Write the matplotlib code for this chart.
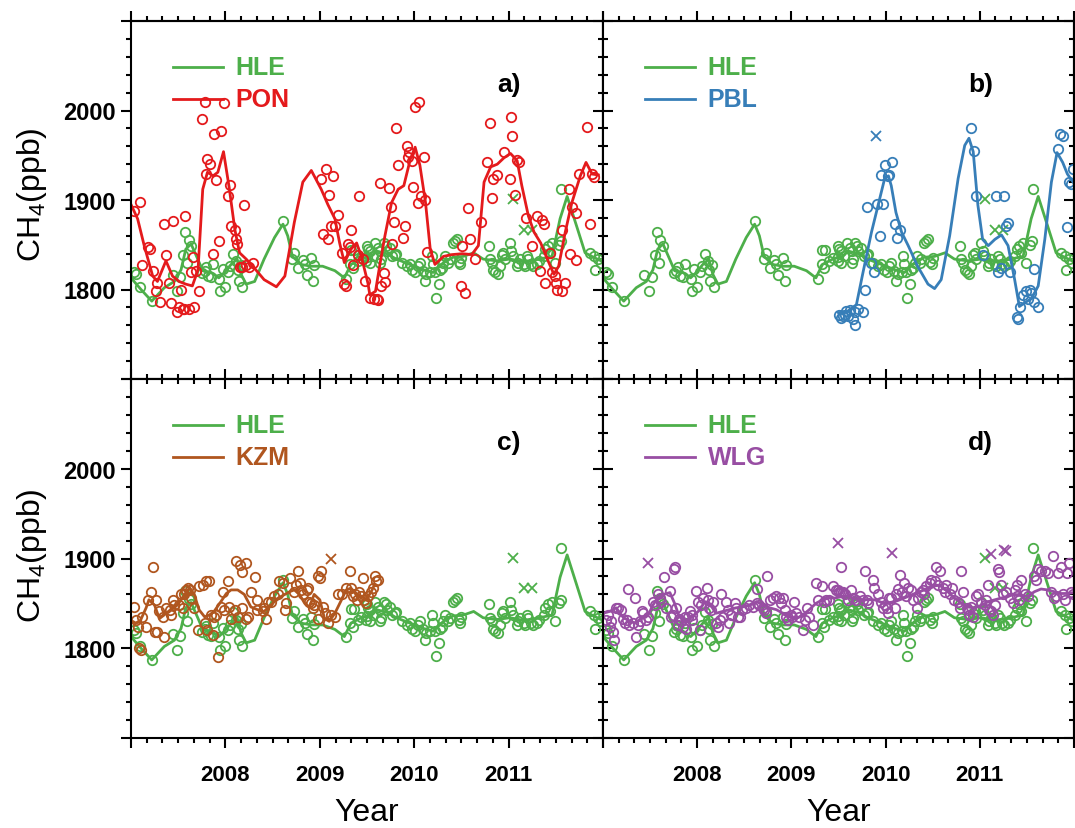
import matplotlib
matplotlib.use('Agg')
import matplotlib.pyplot as plt
from matplotlib.ticker import FixedLocator, FixedFormatter, MultipleLocator

plt.rcParams['font.family'] = ['Liberation Sans', 'DejaVu Sans']
plt.rcParams['mathtext.default'] = 'regular'

# ---- data (decimal year, CH4 ppb) ----
hle_pts = [
    (2007.03, 1820), (2007.05, 1817), (2007.10, 1803), (2007.22, 1787), (2007.44, 1816), (2007.49, 1798),
    (2007.52, 1814), (2007.555, 1839), (2007.57, 1864), (2007.59, 1830), (2007.61, 1855), (2007.64, 1849),
    (2007.75, 1818), (2007.78, 1821), (2007.795, 1825), (2007.82, 1815), (2007.87, 1828), (2007.85, 1814),
    (2007.93, 1812), (2007.94, 1798), (2007.97, 1823), (2008.00, 1803), (2008.03, 1820), (2008.05, 1826),
    (2008.08, 1840), (2008.11, 1832), (2008.13, 1822), (2008.14, 1809), (2008.16, 1827), (2008.18, 1803),
    (2008.61, 1876), (2008.71, 1834), (2008.73, 1841), (2008.77, 1824), (2008.82, 1833), (2008.84, 1828),
    (2008.86, 1816), (2008.91, 1835), (2008.93, 1809), (2008.94, 1827), (2009.28, 1812), (2009.32, 1828),
    (2009.33, 1844), (2009.36, 1844), (2009.35, 1824), (2009.40, 1832), (2009.44, 1835), (2009.49, 1832),
    (2009.51, 1845), (2009.495, 1849), (2009.53, 1843), (2009.56, 1837), (2009.59, 1852), (2009.62, 1846),
    (2009.64, 1843), (2009.65, 1834), (2009.68, 1852), (2009.70, 1849), (2009.71, 1843), (2009.74, 1846),
    (2009.77, 1837), (2009.80, 1839), (2009.50, 1836), (2009.53, 1830), (2009.64, 1830), (2009.81, 1840),
    (2009.87, 1830), (2009.92, 1826), (2009.955, 1828), (2009.98, 1822), (2010.01, 1819), (2010.04, 1826),
    (2010.06, 1830), (2010.09, 1821), (2010.11, 1809), (2010.13, 1817), (2010.17, 1819), (2010.19, 1837),
    (2010.20, 1828), (2010.22, 1819), (2010.23, 1791), (2010.26, 1806), (2010.27, 1822), (2010.29, 1824),
    (2010.31, 1830), (2010.33, 1837), (2010.36, 1830), (2010.38, 1834), (2010.41, 1852), (2010.43, 1854),
    (2010.45, 1856), (2010.47, 1831), (2010.49, 1828), (2010.50, 1835), (2010.79, 1849), (2010.80, 1834),
    (2010.82, 1830), (2010.84, 1822), (2010.86, 1819), (2010.89, 1817), (2010.91, 1826), (2010.93, 1839),
    (2010.945, 1841), (2010.96, 1834), (2011.015, 1852), (2011.03, 1843), (2011.05, 1837), (2011.09, 1826),
    (2011.10, 1830), (2011.12, 1834), (2011.16, 1828), (2011.17, 1826), (2011.19, 1837), (2011.21, 1834),
    (2011.24, 1828), (2011.26, 1826), (2011.30, 1828), (2011.32, 1832), (2011.37, 1837), (2011.39, 1845),
    (2011.42, 1849), (2011.44, 1841), (2011.46, 1852), (2011.49, 1830), (2011.53, 1850), (2011.55, 1854),
    (2011.56, 1912), (2011.86, 1841), (2011.90, 1837), (2011.92, 1822), (2011.95, 1834), (2011.98, 1830),
]
hle_cross = [(2011.05, 1901), (2011.16, 1867), (2011.25, 1867)]
hle_fit = [
    (2007.0, 1813), (2007.106, 1800), (2007.22, 1787), (2007.353, 1802), (2007.46, 1809), (2007.53, 1822),
    (2007.58, 1845), (2007.636, 1851), (2007.707, 1834), (2007.76, 1821), (2007.85, 1819), (2007.93, 1813),
    (2007.99, 1819), (2008.06, 1828), (2008.124, 1834), (2008.166, 1817), (2008.22, 1806), (2008.31, 1809),
    (2008.41, 1834), (2008.52, 1858), (2008.61, 1873), (2008.66, 1860), (2008.71, 1837), (2008.80, 1828),
    (2008.91, 1826), (2009.03, 1826), (2009.16, 1821), (2009.26, 1813), (2009.33, 1828), (2009.44, 1834),
    (2009.545, 1837), (2009.60, 1843), (2009.71, 1840), (2009.81, 1834), (2009.955, 1828), (2010.10, 1822),
    (2010.20, 1819), (2010.31, 1830), (2010.41, 1836), (2010.52, 1837), (2010.63, 1841), (2010.73, 1834),
    (2010.87, 1832), (2011.015, 1834), (2011.16, 1831), (2011.33, 1834), (2011.46, 1837), (2011.545, 1879),
    (2011.62, 1904), (2011.72, 1871), (2011.81, 1841), (2011.90, 1836), (2012.0, 1831),
]

pon_pts = [
    (2007.035, 1888), (2007.10, 1898), (2007.12, 1827), (2007.18, 1847), (2007.20, 1845), (2007.23, 1821),
    (2007.265, 1798), (2007.275, 1807), (2007.31, 1786), (2007.35, 1873), (2007.37, 1839), (2007.40, 1807),
    (2007.42, 1785), (2007.44, 1876), (2007.49, 1775), (2007.51, 1781), (2007.53, 1800), (2007.55, 1778),
    (2007.565, 1778), (2007.57, 1882), (2007.61, 1778), (2007.64, 1820), (2007.655, 1836), (2007.67, 1780),
    (2007.69, 1821), (2007.72, 1798), (2007.75, 1990), (2007.78, 2010), (2007.795, 1929), (2007.81, 1946),
    (2007.84, 1940), (2007.87, 1840), (2007.875, 1974), (2007.90, 1922), (2007.93, 1854), (2007.95, 1977),
    (2007.99, 2008), (2008.03, 1905), (2008.05, 1917), (2008.06, 1871), (2008.10, 1867), (2008.11, 1856),
    (2008.12, 1851), (2008.20, 1894), (2008.15, 1825), (2008.18, 1825), (2008.22, 1827), (2008.255, 1825),
    (2008.29, 1830), (2009.01, 1924), (2009.07, 1935), (2009.14, 1927), (2009.10, 1906), (2009.03, 1862),
    (2009.085, 1856), (2009.12, 1871), (2009.16, 1871), (2009.19, 1883), (2009.23, 1841), (2009.33, 1866),
    (2009.26, 1806), (2009.28, 1804), (2009.30, 1851), (2009.315, 1847), (2009.35, 1827), (2009.42, 1904),
    (2009.40, 1839), (2009.46, 1834), (2009.48, 1809), (2009.53, 1790), (2009.57, 1789), (2009.605, 1789),
    (2009.62, 1788), (2009.64, 1919), (2009.65, 1804), (2009.675, 1818), (2009.69, 1808), (2009.73, 1913),
    (2009.75, 1892), (2009.76, 1851), (2009.79, 1875), (2009.81, 1981), (2009.83, 1939), (2009.88, 1858),
    (2009.90, 1871), (2009.92, 1960), (2009.94, 1954), (2009.935, 1948), (2009.975, 1944), (2009.99, 1914),
    (2010.01, 2004), (2010.05, 2010), (2010.04, 1897), (2010.07, 1905), (2010.11, 1900), (2010.10, 1948),
    (2010.135, 1842), (2010.50, 1804), (2010.54, 1796), (2010.51, 1849), (2010.57, 1891), (2010.59, 1856),
    (2010.64, 1834), (2010.71, 1875), (2010.77, 1942), (2010.80, 1986), (2010.82, 1902), (2010.84, 1924),
    (2010.88, 1928), (2010.95, 1954), (2011.01, 1924), (2011.03, 1993), (2011.04, 1971), (2011.07, 1906),
    (2011.09, 1945), (2011.115, 1942), (2011.18, 1880), (2011.25, 1849), (2011.30, 1882), (2011.35, 1878),
    (2011.37, 1873), (2011.33, 1821), (2011.39, 1807), (2011.44, 1841), (2011.46, 1819), (2011.49, 1815),
    (2011.50, 1807), (2011.515, 1800), (2011.565, 1798), (2011.60, 1807), (2011.57, 1867), (2011.64, 1912),
    (2011.67, 1892), (2011.71, 1833), (2011.65, 1840), (2011.71, 1886), (2011.75, 1929), (2011.83, 1982),
    (2011.86, 1873), (2011.885, 1929), (2011.90, 1926),
]
pon_fit = [
    (2007.0, 1895), (2007.07, 1879), (2007.14, 1849), (2007.23, 1815), (2007.28, 1809), (2007.37, 1832),
    (2007.44, 1815), (2007.51, 1809), (2007.58, 1806), (2007.65, 1804), (2007.71, 1822), (2007.76, 1912),
    (2007.81, 1931), (2007.87, 1927), (2007.92, 1931), (2007.98, 1954), (2008.04, 1914), (2008.10, 1867),
    (2008.15, 1841), (2008.22, 1834), (2008.29, 1826), (2008.41, 1811), (2008.54, 1803), (2008.63, 1815),
    (2008.73, 1875), (2008.82, 1920), (2008.91, 1933), (2009.015, 1912), (2009.085, 1895), (2009.16, 1879),
    (2009.21, 1852), (2009.26, 1830), (2009.33, 1845), (2009.39, 1852), (2009.44, 1837), (2009.51, 1807),
    (2009.53, 1794), (2009.59, 1798), (2009.64, 1830), (2009.69, 1860), (2009.76, 1897), (2009.83, 1912),
    (2009.89, 1916), (2009.96, 1946), (2010.01, 1959), (2010.06, 1939), (2010.12, 1897), (2010.17, 1845),
    (2010.22, 1828), (2010.31, 1837), (2010.40, 1839), (2010.51, 1840), (2010.61, 1839), (2010.68, 1849),
    (2010.74, 1920), (2010.81, 1937), (2010.88, 1940), (2010.95, 1947), (2011.02, 1952), (2011.09, 1944),
    (2011.14, 1916), (2011.21, 1882), (2011.27, 1864), (2011.34, 1852), (2011.41, 1834), (2011.48, 1817),
    (2011.53, 1826), (2011.60, 1864), (2011.67, 1897), (2011.76, 1927), (2011.82, 1942), (2011.885, 1929),
    (2011.95, 1928),
]

pbl_pts = [
    (2009.51, 1772), (2009.55, 1770), (2009.565, 1772), (2009.58, 1776), (2009.60, 1770), (2009.62, 1777),
    (2009.655, 1767), (2009.53, 1768), (2009.67, 1775), (2009.68, 1760), (2009.71, 1778), (2009.76, 1775),
    (2009.78, 1800), (2009.80, 1892), (2009.85, 1830), (2009.88, 1820), (2009.91, 1895), (2009.94, 1860),
    (2009.955, 1928), (2009.97, 1896), (2009.99, 1939), (2010.025, 1927), (2010.04, 1928), (2010.07, 1942),
    (2010.10, 1873), (2010.12, 1857), (2010.15, 1866), (2010.91, 1980), (2010.94, 1955), (2010.96, 1905),
    (2011.03, 1839), (2011.17, 1904), (2011.26, 1904), (2011.19, 1819), (2011.23, 1824), (2011.28, 1871),
    (2011.30, 1874), (2011.32, 1820), (2011.39, 1769), (2011.405, 1767), (2011.43, 1781), (2011.46, 1794),
    (2011.49, 1798), (2011.53, 1800), (2011.545, 1796), (2011.51, 1789), (2011.58, 1786), (2011.62, 1781),
    (2011.58, 1823), (2011.83, 1957), (2011.85, 1974), (2011.88, 1972), (2011.93, 1870), (2011.95, 1920),
    (2011.97, 1918), (2011.99, 1935),
]
pbl_cross = [(2009.90, 1971)]
pbl_fit = [
    (2009.50, 1774), (2009.60, 1776), (2009.69, 1783), (2009.76, 1819), (2009.85, 1864), (2009.92, 1894),
    (2009.99, 1924), (2010.03, 1927), (2010.06, 1916), (2010.11, 1886), (2010.17, 1864), (2010.24, 1849),
    (2010.34, 1826), (2010.45, 1806), (2010.52, 1801), (2010.59, 1811), (2010.68, 1860), (2010.77, 1924),
    (2010.84, 1961), (2010.885, 1969), (2010.93, 1954), (2010.98, 1894), (2011.03, 1856), (2011.09, 1849),
    (2011.16, 1856), (2011.23, 1861), (2011.30, 1849), (2011.37, 1811), (2011.42, 1781), (2011.475, 1785),
    (2011.55, 1790), (2011.62, 1804), (2011.69, 1856), (2011.76, 1920), (2011.82, 1953), (2011.88, 1942),
    (2011.93, 1929), (2011.99, 1920),
]

kzm_pts = [
    (2007.03, 1846), (2007.05, 1831), (2007.07, 1824), (2007.09, 1800), (2007.11, 1798), (2007.12, 1835),
    (2007.16, 1824), (2007.18, 1854), (2007.21, 1863), (2007.23, 1890), (2007.25, 1818), (2007.265, 1854),
    (2007.28, 1818), (2007.30, 1841), (2007.335, 1835), (2007.35, 1813), (2007.37, 1845), (2007.41, 1843),
    (2007.42, 1837), (2007.44, 1854), (2007.46, 1848), (2007.51, 1848), (2007.53, 1860), (2007.55, 1845),
    (2007.565, 1860), (2007.58, 1865), (2007.60, 1867), (2007.62, 1865), (2007.64, 1856), (2007.67, 1845),
    (2007.71, 1820), (2007.72, 1869), (2007.76, 1871), (2007.795, 1875), (2007.81, 1820), (2007.83, 1875),
    (2007.78, 1828), (2007.87, 1815), (2007.85, 1837), (2007.88, 1835), (2007.90, 1837), (2007.92, 1790),
    (2007.95, 1846), (2007.97, 1863), (2008.03, 1875), (2007.99, 1843), (2008.04, 1846), (2008.06, 1833),
    (2008.10, 1843), (2008.11, 1897), (2008.15, 1893), (2008.22, 1895), (2008.18, 1885), (2008.13, 1835),
    (2008.18, 1845), (2008.22, 1833), (2008.24, 1835), (2008.27, 1863), (2008.31, 1879), (2008.33, 1854),
    (2008.34, 1843), (2008.40, 1841), (2008.41, 1845), (2008.43, 1833), (2008.45, 1852), (2008.48, 1852),
    (2008.52, 1858), (2008.555, 1861), (2008.57, 1875), (2008.61, 1873), (2008.63, 1843), (2008.64, 1850),
    (2008.68, 1878), (2008.73, 1863), (2008.77, 1886), (2008.75, 1871), (2008.785, 1873), (2008.80, 1865),
    (2008.82, 1860), (2008.86, 1865), (2008.89, 1852), (2008.87, 1867), (2008.91, 1850), (2008.93, 1845),
    (2008.94, 1848), (2008.98, 1833), (2009.00, 1878), (2009.01, 1886), (2009.03, 1846), (2008.98, 1880),
    (2009.05, 1839), (2009.085, 1828), (2009.12, 1837), (2009.16, 1835), (2009.19, 1860), (2009.23, 1860),
    (2009.28, 1867), (2009.32, 1886), (2009.33, 1867), (2009.35, 1858), (2009.37, 1860), (2009.39, 1854),
    (2009.42, 1863), (2009.44, 1858), (2009.47, 1854), (2009.46, 1878), (2009.49, 1850), (2009.51, 1858),
    (2009.545, 1863), (2009.56, 1867), (2009.58, 1880), (2009.62, 1876), (2009.60, 1875),
]
kzm_cross = [(2009.12, 1900)]
kzm_fit = [
    (2007.0, 1831), (2007.05, 1828), (2007.10, 1831), (2007.16, 1845), (2007.19, 1854), (2007.25, 1848),
    (2007.30, 1833), (2007.35, 1837), (2007.42, 1843), (2007.49, 1848), (2007.57, 1860), (2007.62, 1867),
    (2007.67, 1860), (2007.72, 1843), (2007.78, 1835), (2007.83, 1837), (2007.88, 1841), (2007.94, 1850),
    (2008.01, 1861), (2008.06, 1865), (2008.13, 1865), (2008.20, 1860), (2008.27, 1846), (2008.34, 1843),
    (2008.41, 1841), (2008.48, 1848), (2008.56, 1856), (2008.63, 1860), (2008.68, 1863), (2008.73, 1865),
    (2008.785, 1860), (2008.84, 1850), (2008.89, 1846), (2008.94, 1860), (2009.00, 1854), (2009.05, 1833),
    (2009.10, 1830), (2009.16, 1839), (2009.23, 1854), (2009.28, 1865), (2009.33, 1867), (2009.39, 1860),
    (2009.44, 1858), (2009.49, 1854), (2009.545, 1863), (2009.58, 1871),
]

wlg_pts = [
    (2007.035, 1831), (2007.05, 1837), (2007.07, 1824), (2007.09, 1830), (2007.11, 1818), (2007.12, 1809),
    (2007.14, 1845), (2007.16, 1845), (2007.19, 1843), (2007.21, 1833), (2007.23, 1828), (2007.25, 1831),
    (2007.265, 1866), (2007.28, 1826), (2007.32, 1828), (2007.335, 1856), (2007.35, 1812), (2007.37, 1826),
    (2007.39, 1830), (2007.41, 1841), (2007.42, 1839), (2007.46, 1831), (2007.48, 1835), (2007.53, 1852),
    (2007.55, 1848), (2007.58, 1860), (2007.60, 1856), (2007.62, 1852), (2007.65, 1879), (2007.67, 1845),
    (2007.71, 1864), (2007.72, 1835), (2007.74, 1837), (2007.76, 1891), (2007.75, 1888), (2007.78, 1845),
    (2007.795, 1826), (2007.81, 1833), (2007.83, 1830), (2007.85, 1824), (2007.87, 1835), (2007.88, 1822),
    (2007.90, 1835), (2007.92, 1841), (2007.94, 1831), (2007.95, 1837), (2007.99, 1864), (2008.01, 1852),
    (2008.03, 1820), (2008.04, 1848), (2008.06, 1856), (2008.10, 1867), (2008.11, 1854), (2008.13, 1845),
    (2008.15, 1843), (2008.17, 1852), (2008.20, 1828), (2008.22, 1824), (2008.24, 1831), (2008.255, 1861),
    (2008.27, 1835), (2008.31, 1852), (2008.33, 1843), (2008.34, 1828), (2008.36, 1837), (2008.40, 1850),
    (2008.41, 1845), (2008.43, 1835), (2008.45, 1835), (2008.48, 1843), (2008.52, 1845), (2008.555, 1848),
    (2008.59, 1846), (2008.63, 1850), (2008.66, 1848), (2008.63, 1866), (2008.70, 1845), (2008.71, 1843),
    (2008.73, 1839), (2008.74, 1881), (2008.77, 1854), (2008.80, 1856), (2008.84, 1858), (2008.87, 1856),
    (2008.91, 1856), (2008.89, 1850), (2008.93, 1843), (2008.94, 1835), (2008.96, 1831), (2009.00, 1837),
    (2009.01, 1835), (2009.03, 1852), (2009.05, 1839), (2009.085, 1835), (2009.12, 1820), (2009.14, 1831),
    (2009.17, 1845), (2009.19, 1835), (2009.23, 1826), (2009.26, 1873), (2009.28, 1854), (2009.33, 1869),
    (2009.35, 1852), (2009.37, 1854), (2009.40, 1854), (2009.44, 1869), (2009.47, 1865), (2009.51, 1863),
    (2009.53, 1890), (2009.545, 1863), (2009.495, 1865), (2009.53, 1863), (2009.57, 1860), (2009.60, 1854),
    (2009.63, 1865), (2009.65, 1856), (2009.69, 1854), (2009.725, 1858), (2009.76, 1854), (2009.78, 1886),
    (2009.80, 1854), (2009.81, 1850), (2009.87, 1876), (2009.88, 1867), (2009.92, 1861), (2009.955, 1852),
    (2009.97, 1845), (2009.99, 1848), (2010.01, 1845), (2010.025, 1839), (2010.04, 1856), (2010.06, 1856),
    (2010.10, 1845), (2010.11, 1860), (2010.13, 1866), (2010.15, 1882), (2010.17, 1863), (2010.20, 1873),
    (2010.22, 1858), (2010.24, 1867), (2010.27, 1865), (2010.29, 1854), (2010.33, 1845), (2010.34, 1856),
    (2010.38, 1863), (2010.40, 1865), (2010.41, 1860), (2010.43, 1869), (2010.47, 1873), (2010.485, 1876),
    (2010.52, 1875), (2010.54, 1891), (2010.56, 1871), (2010.58, 1886), (2010.61, 1867), (2010.63, 1863),
    (2010.64, 1871), (2010.68, 1860), (2010.71, 1867), (2010.73, 1854), (2010.77, 1852), (2010.785, 1845),
    (2010.80, 1886), (2010.82, 1863), (2010.86, 1845), (2010.87, 1843), (2010.89, 1837), (2010.91, 1846),
    (2010.93, 1835), (2010.96, 1858), (2010.98, 1861), (2011.015, 1850), (2011.05, 1848), (2011.07, 1854),
    (2011.09, 1871), (2011.10, 1843), (2011.12, 1841), (2011.14, 1837), (2011.16, 1848), (2011.19, 1888),
    (2011.20, 1885), (2011.23, 1871), (2011.245, 1860), (2011.28, 1863), (2011.32, 1856), (2011.35, 1850),
    (2011.37, 1865), (2011.39, 1858), (2011.40, 1871), (2011.42, 1854), (2011.44, 1876), (2011.475, 1861),
    (2011.51, 1858), (2011.58, 1880), (2011.60, 1876), (2011.62, 1888), (2011.65, 1886), (2011.69, 1886),
    (2011.72, 1884), (2011.78, 1903), (2011.76, 1863), (2011.79, 1856), (2011.81, 1858), (2011.83, 1884),
    (2011.86, 1890), (2011.88, 1861), (2011.90, 1854), (2011.93, 1884), (2011.95, 1895), (2011.97, 1863),
    (2011.99, 1860),
]
wlg_cross = [(2007.48, 1895), (2009.49, 1917), (2010.07, 1906), (2011.12, 1905), (2011.26, 1909), (2011.28, 1908)]
wlg_fit = [
    (2007.0, 1839), (2007.07, 1841), (2007.14, 1845), (2007.21, 1835), (2007.28, 1830), (2007.35, 1828),
    (2007.42, 1835), (2007.48, 1837), (2007.53, 1848), (2007.58, 1856), (2007.64, 1860), (2007.71, 1862),
    (2007.76, 1850), (2007.81, 1835), (2007.88, 1831), (2007.95, 1835), (2008.03, 1843), (2008.08, 1852),
    (2008.13, 1850), (2008.20, 1839), (2008.27, 1841), (2008.34, 1843), (2008.41, 1845), (2008.48, 1846),
    (2008.56, 1848), (2008.63, 1852), (2008.70, 1848), (2008.77, 1845), (2008.84, 1843), (2008.91, 1839),
    (2008.98, 1835), (2009.05, 1833), (2009.12, 1837), (2009.19, 1843), (2009.26, 1850), (2009.33, 1854),
    (2009.40, 1856), (2009.47, 1856), (2009.545, 1858), (2009.60, 1858), (2009.67, 1855), (2009.78, 1854),
    (2009.88, 1854), (2009.99, 1850), (2010.10, 1852), (2010.20, 1856), (2010.31, 1861), (2010.41, 1865),
    (2010.52, 1871), (2010.59, 1869), (2010.66, 1863), (2010.73, 1856), (2010.80, 1851), (2010.87, 1846),
    (2010.94, 1845), (2011.02, 1848), (2011.09, 1852), (2011.16, 1854), (2011.23, 1856), (2011.30, 1858),
    (2011.37, 1860), (2011.44, 1859), (2011.51, 1858), (2011.58, 1863), (2011.65, 1866), (2011.72, 1865),
    (2011.79, 1863), (2011.86, 1861), (2011.93, 1861), (2011.99, 1862),
]

panels = [
    ('PON', '#E41A1C', pon_pts, [], pon_fit, 'a)'),
    ('PBL', '#377EB8', pbl_pts, pbl_cross, pbl_fit, 'b)'),
    ('KZM', '#B0561F', kzm_pts, kzm_cross, kzm_fit, 'c)'),
    ('WLG', '#984EA3', wlg_pts, wlg_cross, wlg_fit, 'd)'),
]
hle_color = '#4DAF4A'

year_ticks = [2007, 2008, 2009, 2010, 2011, 2012]
year_labels = ['', '2008', '2009', '2010', '2011', '']
ch4_ticks = [1700, 1800, 1900, 2000, 2100]
ch4_labels = ['', '1800', '1900', '2000', '']

# ---- figure ----
W, H = 1075, 829
fig = plt.figure(figsize=(W / 100, H / 100), dpi=100)


def add_panel(x0, y0, x1, y1):
    return fig.add_axes([x0 / W, 1 - y1 / H, (x1 - x0) / W, (y1 - y0) / H])


boxes = [(131, 22, 603, 380), (603, 22, 1074, 380), (131, 380, 603, 739), (603, 380, 1074, 739)]


def setup_ticks(ax, bottom_dir, top_dir, left_dir, right_dir, xlab, ylab):
    kw = dict(width=1.5, color='black')
    ax.set_xlim(2007, 2012)
    ax.set_ylim(1700, 2100)
    ax.xaxis.set_major_locator(FixedLocator(year_ticks))
    ax.xaxis.set_major_formatter(FixedFormatter(year_labels))
    ax.xaxis.set_minor_locator(MultipleLocator(1 / 6))
    ax.yaxis.set_major_locator(FixedLocator(ch4_ticks))
    ax.yaxis.set_major_formatter(FixedFormatter(ch4_labels))
    ax.yaxis.set_minor_locator(MultipleLocator(20))
    ax.tick_params(axis='x', which='both', direction=bottom_dir, top=False, labelbottom=xlab,
                   pad=12, labelsize=16, **kw)
    ax.tick_params(axis='y', which='both', direction=left_dir, right=False, labelleft=ylab,
                   pad=4, labelsize=17, **kw)
    ax.tick_params(which='major', length=7)
    ax.tick_params(which='minor', length=3.5)
    for lab in ax.get_xticklabels() + ax.get_yticklabels():
        lab.set_fontweight('bold')
    for sp in ax.spines.values():
        sp.set_linewidth(1.5)

    sx = ax.secondary_xaxis('top')
    sx.xaxis.set_major_locator(FixedLocator(year_ticks))
    sx.xaxis.set_minor_locator(MultipleLocator(1 / 6))
    sx.tick_params(which='both', direction=top_dir, labeltop=False, width=1.5)
    sx.tick_params(which='major', length=7)
    sx.tick_params(which='minor', length=3.5)
    sx.spines['top'].set_linewidth(1.5)

    sy = ax.secondary_yaxis('right')
    sy.yaxis.set_major_locator(FixedLocator(ch4_ticks))
    sy.yaxis.set_minor_locator(MultipleLocator(20))
    sy.tick_params(which='both', direction=right_dir, labelright=False, width=1.5)
    sy.tick_params(which='major', length=7)
    sy.tick_params(which='minor', length=3.5)
    sy.spines['right'].set_linewidth(1.5)


dirs = [('in', 'out', 'out', 'in'), ('in', 'out', 'in', 'in'),
        ('out', 'in', 'out', 'in'), ('out', 'in', 'in', 'in')]

for i, (name, color, pts, cross, fit, tag) in enumerate(panels):
    ax = add_panel(*boxes[i])
    b, t, l, r = dirs[i]
    setup_ticks(ax, b, t, l, r, xlab=(i >= 2), ylab=(i % 2 == 0))

    # HLE reference series (same in every panel)
    hx, hy = zip(*hle_pts)
    ax.plot(hx, hy, 'o', ms=6.8, mfc='none', mec=hle_color, mew=1.3)
    cx, cy = zip(*hle_cross)
    ax.plot(cx, cy, 'x', ms=7, color=hle_color, mew=1.3)
    fx, fy = zip(*hle_fit)
    ax.plot(fx, fy, '-', color=hle_color, lw=2, solid_joinstyle='round')

    # comparison station
    sx_, sy_ = zip(*pts)
    ax.plot(sx_, sy_, 'o', ms=6.8, mfc='none', mec=color, mew=1.3)
    if cross:
        cx, cy = zip(*cross)
        ax.plot(cx, cy, 'x', ms=7, color=color, mew=1.3)
    fx, fy = zip(*fit)
    ax.plot(fx, fy, '-', color=color, lw=2, solid_joinstyle='round')

    # legend drawn by hand
    for row, (lab, col) in enumerate([('HLE', hle_color), (name, color)]):
        yy = 0.872 - row * 0.09
        ax.plot([0.09, 0.195], [yy, yy], color=col, lw=2, transform=ax.transAxes, clip_on=False)
        ax.text(0.222, yy, lab, color=col, fontsize=18, fontweight='bold',
                va='center', ha='left', transform=ax.transAxes)
    ax.text(0.775, 0.824, tag, fontsize=19, fontweight='bold', va='center', ha='left',
            transform=ax.transAxes)

fig.text(32 / W, 1 - 195 / H, 'CH$_4$(ppb)', rotation=90, ha='center', va='center', fontsize=23)
fig.text(32 / W, 1 - 556 / H, 'CH$_4$(ppb)', rotation=90, ha='center', va='center', fontsize=23)
fig.text(367 / W, 1 / H, 'Year', ha='center', va='bottom', fontsize=23)
fig.text(839 / W, 1 / H, 'Year', ha='center', va='bottom', fontsize=23)

fig.savefig('out.png', dpi=100)
